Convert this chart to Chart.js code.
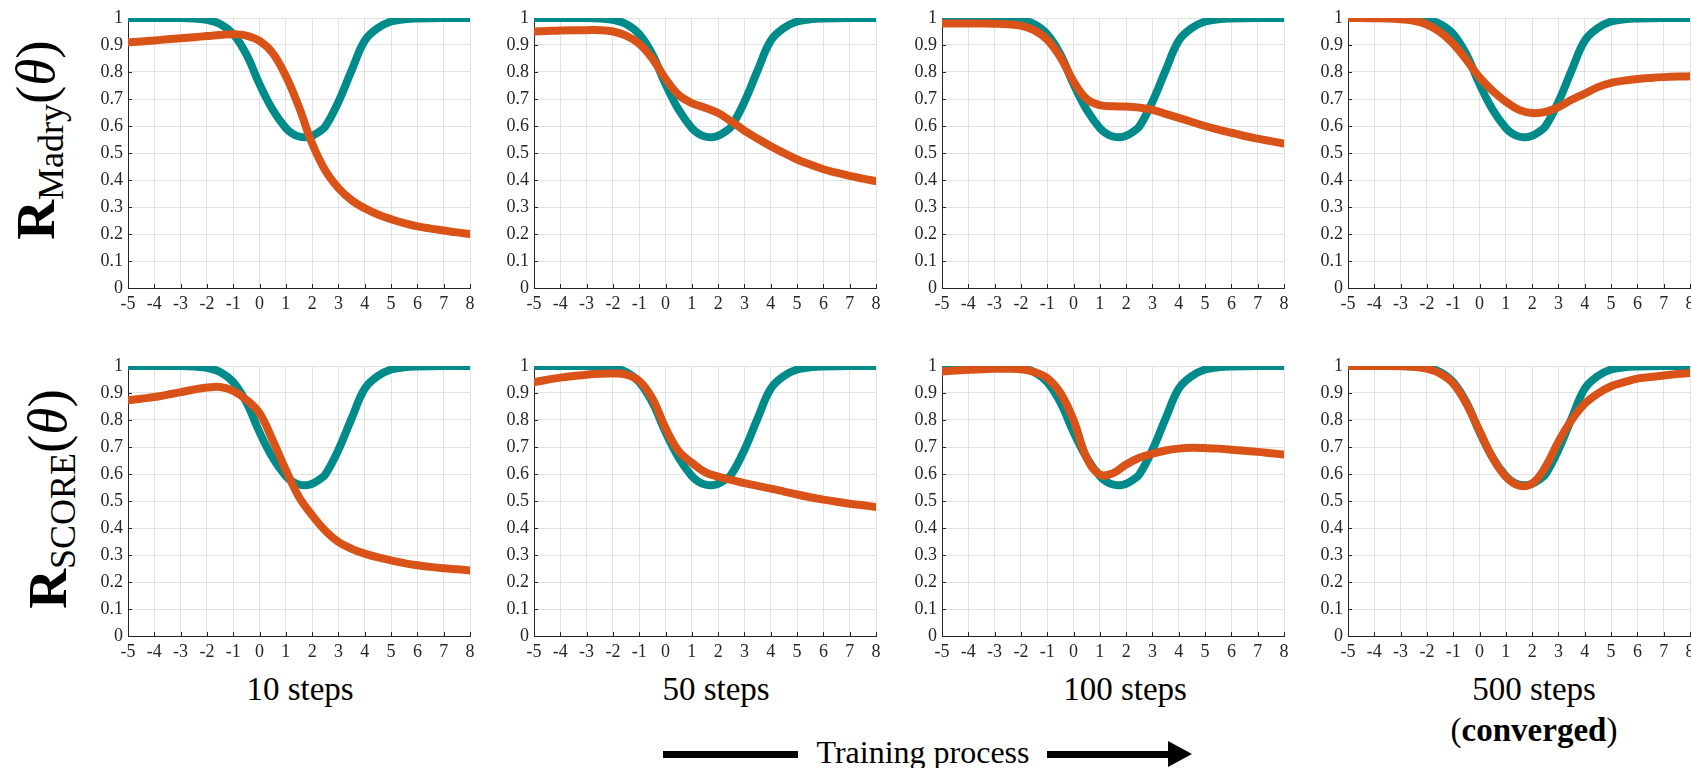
<!DOCTYPE html>
<html>
<head>
<meta charset="utf-8">
<script src="https://cdn.jsdelivr.net/npm/chart.js@4.4.1/dist/chart.umd.min.js"></script>
<style>
  html, body { margin: 0; padding: 0; background: #fff; overflow: hidden; }
  body { width: 1691px; height: 768px; position: relative; font-family: "Liberation Serif", serif; color: #000; }
  canvas { position: absolute; }
  .row-label { position: absolute; white-space: nowrap; line-height: 1; transform: translate(-50%, -50%) rotate(-90deg); }
  .row-label .big { font-size: 55px; }
  .row-label .sub { font-size: 36px; position: relative; top: 9px; }
  .col-label { position: absolute; white-space: nowrap; line-height: 1; font-size: 33px; transform: translateX(-50%); }
  .bar { position: absolute; background: #000; }
  .head { position: absolute; width: 0; height: 0; border-left: 24px solid #000; border-top: 13px solid transparent; border-bottom: 13px solid transparent; }
</style>
</head>
<body>

<div class="row-label" style="left:35px; top:140px;"><b class="big">R</b><span class="sub">Madry</span><span class="big">(<i>θ</i>)</span></div>
<div class="row-label" style="left:47px; top:499px;"><b class="big">R</b><span class="sub">SCORE</span><span class="big">(<i>θ</i>)</span></div>

<div id="labels"></div>

<div class="bar" style="left:663px; top:751px; width:135px; height:7px;"></div>
<div class="col-label" style="left:923px; top:736px; font-size:32px;">Training process</div>
<div class="bar" style="left:1047px; top:751px; width:124px; height:7px;"></div>
<div class="head" style="left:1168px; top:741px;"></div>

<script>
// x positions of the sampled orange curves
const xs = [-5, -4.5, -4, -3.5, -3, -2.5, -2, -1.5, -1, -0.5, 0, 0.5, 1, 1.5, 2, 2.5, 3, 3.5, 4, 4.5, 5, 5.5, 6, 6.5, 7, 7.5, 8];

// teal curve (same in every panel), sampled a bit finer around the dip
const targetXs = [-5, -4, -3, -2.5, -2, -1.5, -1, -0.5, 0, 0.5, 1, 1.25, 1.5, 1.75, 2, 2.25, 2.5, 3, 3.5, 4, 4.5, 5, 5.5, 6, 7, 8];
const target = [1, 1, 1, 0.998, 0.993, 0.978, 0.94, 0.865, 0.755, 0.66, 0.592, 0.572, 0.561, 0.558, 0.564, 0.578, 0.598, 0.69, 0.806, 0.916, 0.963, 0.987, 0.995, 0.998, 1, 1];

// orange curves, top row (Madry)
const madry10 = [0.91, 0.913, 0.917, 0.921, 0.925, 0.929, 0.933, 0.937, 0.94, 0.935, 0.915, 0.87, 0.785, 0.67, 0.535, 0.435, 0.37, 0.325, 0.295, 0.272, 0.255, 0.24, 0.228, 0.22, 0.213, 0.206, 0.2];
const madry50 = [0.95, 0.952, 0.954, 0.955, 0.955, 0.955, 0.95, 0.935, 0.905, 0.85, 0.775, 0.715, 0.685, 0.668, 0.648, 0.617, 0.583, 0.553, 0.525, 0.5, 0.476, 0.457, 0.44, 0.427, 0.415, 0.405, 0.396];
const madry100 = [0.98, 0.98, 0.98, 0.98, 0.979, 0.977, 0.972, 0.955, 0.92, 0.855, 0.765, 0.7, 0.677, 0.673, 0.672, 0.668, 0.66, 0.645, 0.63, 0.615, 0.6, 0.587, 0.575, 0.563, 0.553, 0.544, 0.535];
const madry500 = [1, 1, 0.999, 0.998, 0.995, 0.99, 0.976, 0.948, 0.905, 0.845, 0.78, 0.73, 0.69, 0.66, 0.648, 0.652, 0.67, 0.697, 0.72, 0.744, 0.76, 0.768, 0.774, 0.778, 0.781, 0.783, 0.784];

// orange curves, bottom row (SCORE)
const score10 = [0.873, 0.879, 0.885, 0.894, 0.903, 0.913, 0.92, 0.922, 0.908, 0.875, 0.825, 0.725, 0.615, 0.515, 0.447, 0.39, 0.348, 0.323, 0.305, 0.291, 0.28, 0.27, 0.262, 0.256, 0.251, 0.247, 0.243];
const score50 = [0.94, 0.949, 0.957, 0.963, 0.968, 0.971, 0.972, 0.968, 0.945, 0.88, 0.77, 0.685, 0.642, 0.607, 0.59, 0.578, 0.566, 0.556, 0.546, 0.535, 0.524, 0.514, 0.505, 0.497, 0.49, 0.484, 0.478];
const score100 = [0.98, 0.983, 0.986, 0.988, 0.99, 0.99, 0.988, 0.978, 0.955, 0.9, 0.8, 0.66, 0.598, 0.603, 0.635, 0.66, 0.675, 0.687, 0.694, 0.697, 0.696, 0.694, 0.69, 0.686, 0.682, 0.677, 0.672];
const score500 = [1, 1, 1, 1, 0.999, 0.997, 0.99, 0.972, 0.935, 0.86, 0.76, 0.66, 0.59, 0.557, 0.565, 0.625, 0.72, 0.8, 0.86, 0.898, 0.925, 0.94, 0.953, 0.959, 0.965, 0.97, 0.974];

const xTickLabels = ['-5', '-4', '-3', '-2', '-1', '0', '1', '2', '3', '4', '5', '6', '7', '8'];
const yTickLabels = ['0', '0.1', '0.2', '0.3', '0.4', '0.5', '0.6', '0.7', '0.8', '0.9', '1'];
const stepLabels = ['10 steps', '50 steps', '100 steps', '500 steps'];

const rows = [
    [madry10, madry50, madry100, madry500],
    [score10, score50, score100, score500]
];

// plot area placement (padTop must cover half the top tick label + its padding)
const plotLefts = [128, 534, 942, 1348];
const plotTops = [18, 366];
const plotW = 342, plotH = 270;
const yAxisW = 48, xAxisH = 32, padTop = 16, padRight = 14;

const TEAL = '#008b8b';
const ORANGE = '#d95319';
const INK = '#262626';

Chart.defaults.font.family = 'Liberation Serif';
Chart.defaults.font.size = 18;

// matlab style ticks pointing into the plot
const innerTicks = {
    id: 'innerTicks',
    beforeDatasetsDraw(chart) {
        const { ctx, chartArea } = chart;
        const x = chart.scales.x, y = chart.scales.y;
        ctx.save();
        ctx.strokeStyle = INK;
        ctx.lineWidth = 1;
        ctx.beginPath();
        x.ticks.forEach(t => {
            const px = Math.round(x.getPixelForValue(t.value)) + 0.5;
            ctx.moveTo(px, chartArea.bottom);
            ctx.lineTo(px, chartArea.bottom - 4);
        });
        y.ticks.forEach(t => {
            const py = Math.round(y.getPixelForValue(t.value)) + 0.5;
            ctx.moveTo(chartArea.left, py);
            ctx.lineTo(chartArea.left + 4, py);
        });
        ctx.stroke();
        ctx.restore();
    }
};

function curve(xv, yv, color, order) {
    return {
        data: xv.map((x, i) => ({ x: x, y: yv[i] })),
        borderColor: color,
        borderWidth: 8,
        borderCapStyle: 'round',
        borderJoinStyle: 'round',
        pointRadius: 0,
        tension: 0.4,
        order: order
    };
}

function draw(canvas, values) {
    new Chart(canvas, {
        type: 'line',
        data: {
            datasets: [
                curve(xs, values, ORANGE, 1),
                curve(targetXs, target, TEAL, 2)
            ]
        },
        options: {
            responsive: false,
            animation: false,
            events: [],
            layout: { padding: { top: padTop, right: padRight, left: 0, bottom: 0 } },
            plugins: { legend: { display: false }, tooltip: { enabled: false } },
            scales: {
                x: {
                    type: 'linear',
                    min: -5,
                    max: 8,
                    afterFit(scale) { scale.height = xAxisH; },
                    ticks: {
                        stepSize: 1,
                        padding: 5,
                        maxRotation: 0,
                        autoSkip: false,
                        color: INK,
                        font: { family: 'Liberation Serif', size: 18 },
                        callback: (v, i) => xTickLabels[i]
                    },
                    grid: { color: '#e2e2e2', drawTicks: false },
                    border: { color: INK, width: 1 }
                },
                y: {
                    min: 0,
                    max: 1,
                    afterFit(scale) { scale.width = yAxisW; },
                    ticks: {
                        stepSize: 0.1,
                        padding: 5,
                        color: INK,
                        font: { family: 'Liberation Serif', size: 18 },
                        callback: (v, i) => yTickLabels[i]
                    },
                    grid: { color: '#e2e2e2', drawTicks: false },
                    border: { color: INK, width: 1 }
                }
            }
        },
        plugins: [innerTicks]
    });
}

rows.forEach((row, r) => {
    row.forEach((values, c) => {
        const canvas = document.createElement('canvas');
        canvas.width = yAxisW + plotW + padRight;
        canvas.height = padTop + plotH + xAxisH;
        canvas.style.left = (plotLefts[c] - yAxisW) + 'px';
        canvas.style.top = (plotTops[r] - padTop) + 'px';
        document.body.appendChild(canvas);
        draw(canvas, values);
    });
});

// column captions
const labelCenters = [300, 716, 1125, 1534];
const labelBox = document.getElementById('labels');
stepLabels.forEach((text, i) => {
    const div = document.createElement('div');
    div.className = 'col-label';
    div.style.left = labelCenters[i] + 'px';
    div.style.top = '673px';
    div.textContent = text;
    labelBox.appendChild(div);
});
const conv = document.createElement('div');
conv.className = 'col-label';
conv.style.left = labelCenters[3] + 'px';
conv.style.top = '714px';
conv.innerHTML = '(<b>converged</b>)';
labelBox.appendChild(conv);
</script>
</body>
</html>
